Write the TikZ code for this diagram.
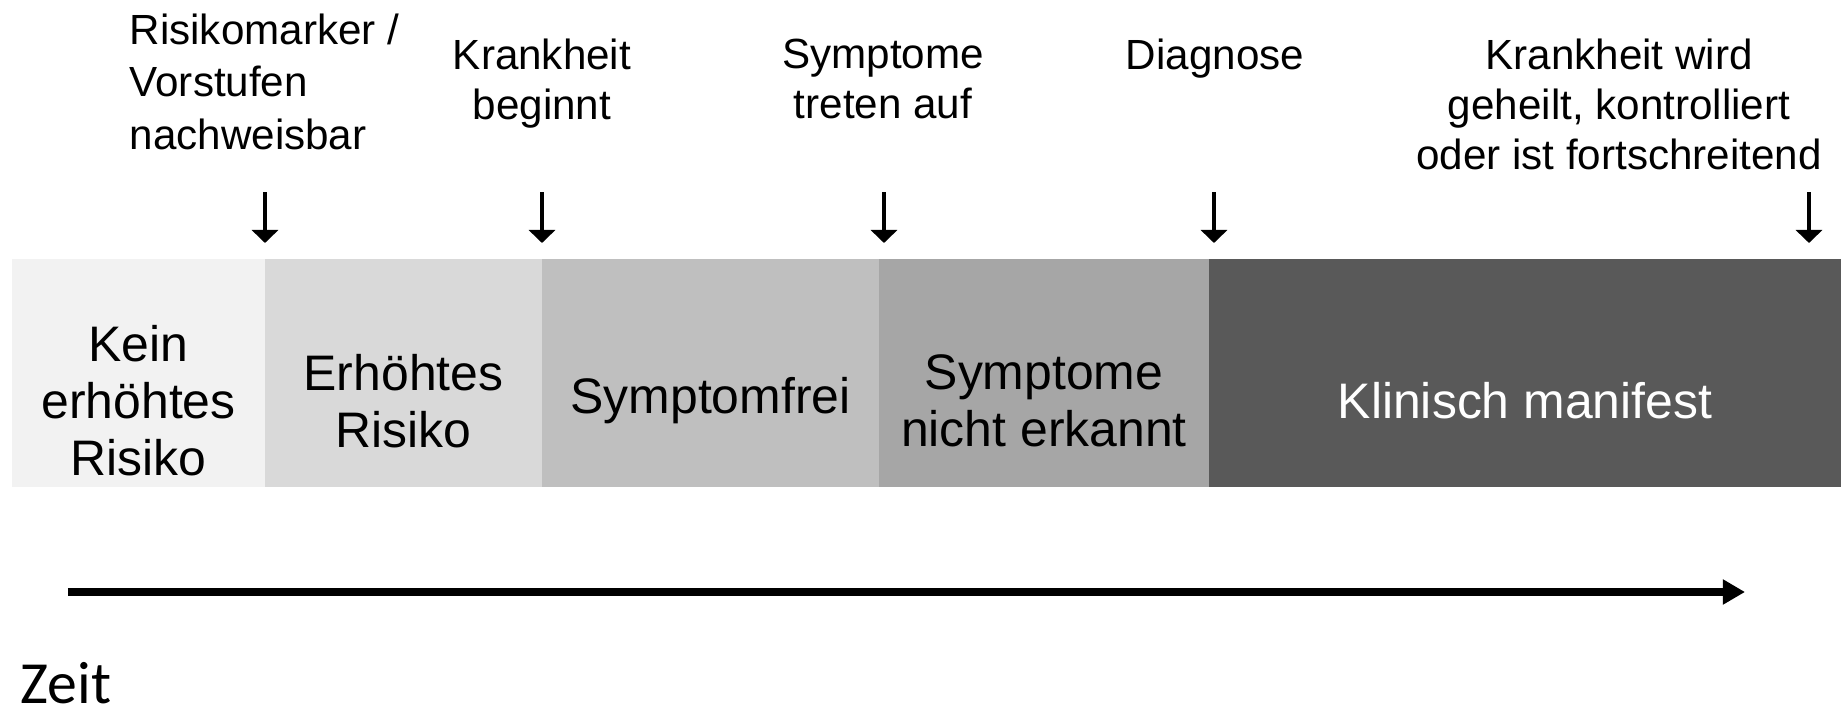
\documentclass[tikz,border=0pt]{standalone}
\usepackage{amsmath}
\usepackage{fontspec}
\setmainfont{Liberation Sans}
\newfontfamily\zeitfont{Carlito}
\usetikzlibrary{arrows.meta}

\definecolor{phaseA}{HTML}{F2F2F2}
\definecolor{phaseB}{HTML}{D9D9D9}
\definecolor{phaseC}{HTML}{BFBFBF}
\definecolor{phaseD}{HTML}{A6A6A6}
\definecolor{phaseE}{HTML}{595959}

\tikzset{
    toplabel/.style={font=\fontsize{12}{14.2}\selectfont, align=center, inner sep=0pt, anchor=north},
    barlabel/.style={font=\fontsize{14.2}{16.2}\selectfont, align=center, inner sep=0pt},
    marker/.style={line width=1.2pt, -{Triangle[width=7.4pt, length=3.7pt]}},
    timeline/.style={line width=2.3pt, -{Triangle[width=6.8pt, length=6.3pt]}}
}

\begin{document}
\begin{tikzpicture}
        \useasboundingbox (0, 0) rectangle (18.41, -7.13);
        \fill[phaseA] (0.12, -2.59) rectangle (2.65, -4.87);
        \fill[phaseB] (2.65, -2.59) rectangle (5.42, -4.87);
        \fill[phaseC] (5.42, -2.59) rectangle (8.79, -4.87);
        \fill[phaseD] (8.79, -2.59) rectangle (12.09, -4.87);
        \fill[phaseE] (12.09, -2.59) rectangle (18.41, -4.87);
        \node[barlabel] (kein) at (1.385, -4.01) {Kein\\erhöhtes\\Risiko};
        \node[barlabel] (erhoeht) at (4.035, -4.01) {Erhöhtes\\Risiko};
        \node[barlabel] (frei) at (7.105, -4.01) {Symptomfrei};
        \node[barlabel] (unerkannt) at (10.44, -4.01) {Symptome\\nicht erkannt};
        \node[barlabel, text=white] (manifest) at (15.25, -4.01) {Klinisch manifest};
        \node[toplabel, align=left, anchor=north west, font=\fontsize{12}{15}\selectfont] (marker) at (1.29, -0.13) {Risikomarker /\\Vorstufen\\nachweisbar};
        \node[toplabel] (beginn) at (5.42, -0.38) {Krankheit\\beginnt};
        \node[toplabel] (auftreten) at (8.83, -0.38) {Symptome\\treten auf};
        \node[toplabel] (diagnose) at (12.15, -0.38) {Diagnose};
        \node[toplabel] (verlauf) at (16.19, -0.38) {Krankheit wird\\geheilt, kontrolliert\\oder ist fortschreitend};
        \coordinate (m1) at (2.65, -1.92);
        \coordinate (t1) at (2.65, -2.43);
        \coordinate (m2) at (5.42, -1.92);
        \coordinate (t2) at (5.42, -2.43);
        \coordinate (m3) at (8.84, -1.92);
        \coordinate (t3) at (8.84, -2.43);
        \coordinate (m4) at (12.14, -1.92);
        \coordinate (t4) at (12.14, -2.43);
        \coordinate (m5) at (18.09, -1.92);
        \coordinate (t5) at (18.09, -2.43);
        \draw[marker] (m1) -- (t1);
        \draw[marker] (m2) -- (t2);
        \draw[marker] (m3) -- (t3);
        \draw[marker] (m4) -- (t4);
        \draw[marker] (m5) -- (t5);
        \coordinate (start) at (0.68, -5.92);
        \coordinate (end) at (17.45, -5.92);
        \draw[timeline] (start) -- (end);
        \node[anchor=base west, inner sep=0pt, font=\zeitfont\fontsize{17}{20}\selectfont] (zeit) at (0.20, -7.03) {Zeit};
    \end{tikzpicture}
\end{document}
